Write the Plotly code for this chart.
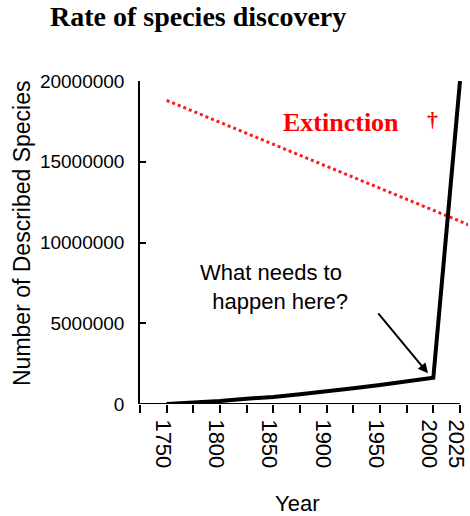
import plotly.graph_objects as go

# ---- data ----
years = [1750, 1775, 1800, 1825, 1850, 1875, 1900, 1925, 1950, 1975, 2000, 2025]
described_species = [0, 80000, 186000, 328000, 433000, 600000, 762000, 972000,
                     1180000, 1420000, 1630000, 20000000]
extinction_years = [1750, 2033]
extinction_values = [18800000, 11100000]
x_tickvals = [1725, 1750, 1775, 1800, 1825, 1850, 1875, 1900, 1925, 1950, 1975, 2000, 2025]
x_ticktext = ["", "1750", "", "1800", "", "1850", "", "1900", "", "1950", "", "2000", "2025"]
y_tickvals = [0, 5000000, 10000000, 15000000, 20000000]
y_ticktext = ["0", "5000000", "10000000", "15000000", "20000000"]

W, H = 470, 516
ML, MR, MT, MB = 140, 2, 81, 112

fig = go.Figure()
fig.add_trace(go.Scatter(x=extinction_years, y=extinction_values, mode="lines",
                         line=dict(color="#ff1a1a", width=3, dash="dot"),
                         hoverinfo="skip", showlegend=False))
fig.add_trace(go.Scatter(x=years, y=described_species, mode="lines",
                         line=dict(color="black", width=4),
                         showlegend=False))

# x-axis baseline only up to 2025
fig.add_shape(type="line", xref="x", yref="y", x0=1725, x1=2025, y0=0, y1=0,
              line=dict(color="black", width=2))

fig.update_layout(
    width=W, height=H,
    margin=dict(l=ML, r=MR, t=MT, b=MB, pad=0, autoexpand=False),
    plot_bgcolor="white", paper_bgcolor="white",
    font=dict(family="Liberation Sans, Arial, sans-serif", color="black"),
    title=dict(text="<b>Rate of species discovery</b>",
               font=dict(family="Liberation Serif, Times New Roman, serif", size=28, color="black"),
               xref="container", yref="container", x=50 / W, xanchor="left",
               y=1 - 16 / H, yanchor="middle"),
    xaxis=dict(range=[1725, 2032.5], showgrid=False, zeroline=False, showline=False,
               automargin=False, ticklabeloverflow="allow", ticklabelshift=-4,
               tickmode="array", tickvals=x_tickvals, ticktext=x_ticktext,
               ticks="outside", ticklen=8, tickwidth=1.5, tickcolor="black",
               tickangle=90, tickfont=dict(size=22, color="black"),
               ticklabelstandoff=2),
    yaxis=dict(range=[0, 20000000], showgrid=False, zeroline=False, showline=True,
               automargin=False, ticklabeloverflow="allow",
               linecolor="black", linewidth=1.5,
               tickmode="array", tickvals=y_tickvals, ticktext=y_ticktext,
               ticks="inside", ticklen=6, tickwidth=1.5, tickcolor="black",
               tickfont=dict(size=19, color="black"), ticklabelstandoff=10),
)

fig.add_annotation(text="Number of Described Species", xref="paper", yref="paper",
                   x=(22 - ML) / (W - ML - MR), y=(404 - 233) / (H - MT - MB),
                   xanchor="center", yanchor="middle", textangle=-90, showarrow=False,
                   font=dict(size=23, color="black"))
fig.add_annotation(text="Year", xref="paper", yref="paper",
                   x=(297 - ML) / (W - ML - MR), y=(404 - 503) / (H - MT - MB),
                   xanchor="center", yanchor="middle", showarrow=False,
                   font=dict(size=22, color="black"))
fig.add_annotation(text="What needs to<br>&nbsp;&nbsp;happen here?", xref="paper", yref="paper",
                   x=(198 - ML) / (W - ML - MR), y=(404 - 287) / (H - MT - MB),
                   xanchor="left", yanchor="middle", align="left", showarrow=False,
                   font=dict(size=22, color="black"))
fig.add_annotation(text="", x=1995, y=1900000, xref="x", yref="y",
                   ax=1947.2, ay=5700000, axref="x", ayref="y",
                   showarrow=True, arrowhead=2, arrowsize=1, arrowwidth=2, arrowcolor="black")
fig.add_annotation(text="<b>Extinction</b>", xref="paper", yref="paper",
                   x=(341 - ML) / (W - ML - MR), y=(404 - 122) / (H - MT - MB),
                   xanchor="center", yanchor="middle", showarrow=False,
                   font=dict(family="Liberation Serif, Times New Roman, serif", size=26, color="#ff0000"))
fig.add_annotation(text="<b>†</b>", xref="paper", yref="paper",
                   x=(432 - ML) / (W - ML - MR), y=(404 - 120) / (H - MT - MB),
                   xanchor="center", yanchor="middle", showarrow=False,
                   font=dict(family="Liberation Serif, Times New Roman, serif", size=22, color="#ff0000"))

fig.write_html("out.html", config={"displayModeBar": False},
               post_script="document.body.style.margin='0';document.body.style.padding='0';")
